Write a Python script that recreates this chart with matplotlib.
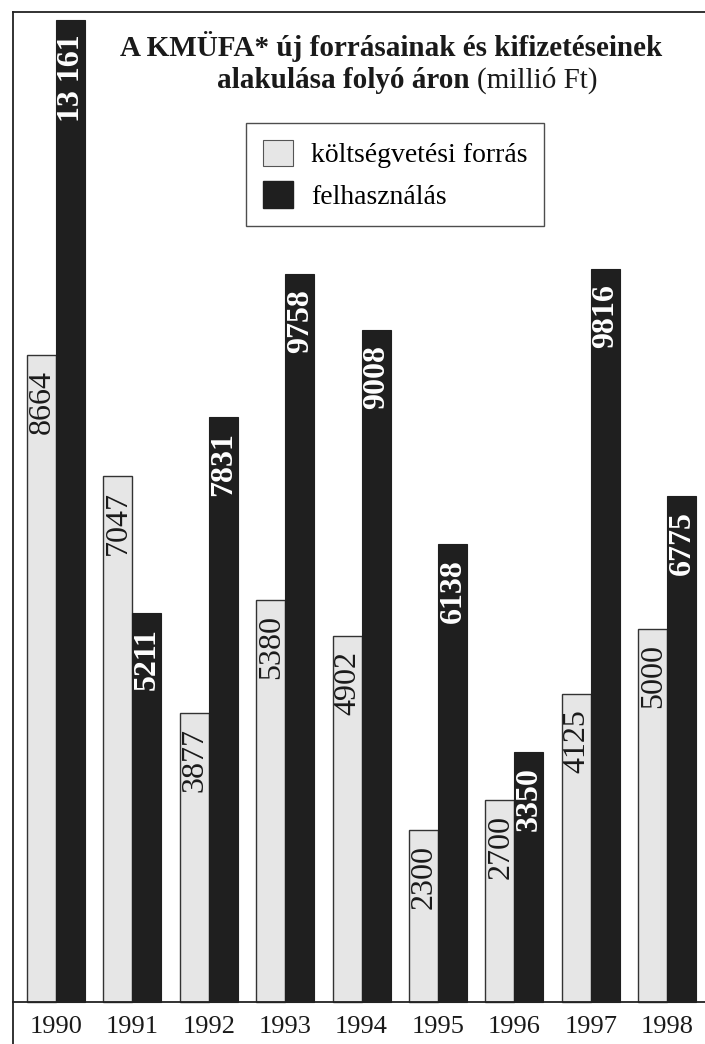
import numpy as np
import matplotlib.pyplot as plt
from matplotlib.lines import Line2D
from matplotlib.patches import Patch

plt.rcParams['font.family'] = ['Liberation Serif', 'DejaVu Serif']

years = ['1990', '1991', '1992', '1993', '1994', '1995', '1996', '1997', '1998']
koltsegvetesi = [8664, 7047, 3877, 5380, 4902, 2300, 2700, 4125, 5000]
felhasznalas = [13161, 5211, 7831, 9758, 9008, 6138, 3350, 9816, 6775]
series_names = ['költségvetési forrás', 'felhasználás']

W, H = 705, 1044
light = '#e6e6e6'
dark = '#1f1f1f'


def px(x, y):
    # pixel coords (from top-left) -> figure fraction
    return x / W, 1 - y / H


fig = plt.figure(figsize=(W / 100, H / 100), dpi=100)

base_y = 1002
scale = 0.07464  # px per unit
spacing = 76.4
x0 = 56
ax = fig.add_axes([13 / W, (H - base_y) / H, (W - 13) / W, base_y / H])
ax.set_xlim(-(x0 - 13) / spacing, (W - x0) / spacing)
ax.set_ylim(0, base_y / scale)

x = np.arange(len(years))
bw = 29 / spacing
ax.bar(x - bw / 2, koltsegvetesi, bw, color=light, edgecolor='#333333', linewidth=1.0, clip_on=False, zorder=3)
ax.bar(x + bw / 2, felhasznalas, bw, color=dark, edgecolor=dark, linewidth=0.8, clip_on=False, zorder=3)

off = 15 / scale
for i in range(len(years)):
    ax.text(x[i] - bw / 2 + 0.01, koltsegvetesi[i] - off, str(koltsegvetesi[i]), rotation=90,
            ha='center', va='top', fontsize=23, color='#1a1a1a', zorder=4)
    v = felhasznalas[i]
    lab = '13 161' if v >= 10000 else str(v)
    ax.text(x[i] + bw / 2 + 0.01, v - off, lab, rotation=90, ha='center', va='top',
            fontsize=23, fontweight='bold', color='white', zorder=4)

ax.set_xticks(x)
ax.set_xticklabels(years, fontsize=19, color='#1a1a1a')
ax.tick_params(axis='x', length=0, pad=10)
ax.set_yticks([])
for s in ax.spines.values():
    s.set_visible(False)

# frame lines
fig.add_artist(Line2D([13 / W, 1], [1 - 12 / H, 1 - 12 / H], color='#222222', lw=1.3, zorder=1))
fig.add_artist(Line2D([13 / W, 13 / W], [0, 1 - 12 / H], color='#222222', lw=1.3, zorder=1))
fig.add_artist(Line2D([13 / W, 1], [1 - base_y / H, 1 - base_y / H], color='#222222', lw=1.3, zorder=5))

# title
fig.text(*px(391, 47), 'A KMÜFA* új forrásainak és kifizetéseinek', ha='center', va='center',
         fontsize=21, fontweight='bold', color='#1a1a1a')
fig.text(*px(470, 80), 'alakulása folyó áron', ha='right', va='center',
         fontsize=21, fontweight='bold', color='#1a1a1a')
fig.text(*px(477, 80), '(millió Ft)', ha='left', va='center',
         fontsize=21, color='#1a1a1a')

handles = [Patch(facecolor=light, edgecolor='#555555', linewidth=0.8),
           Patch(facecolor=dark, edgecolor=dark)]
leg = fig.legend(handles, series_names, loc='upper left', bbox_to_anchor=px(246, 123),
                 fontsize=20, frameon=True, fancybox=False, edgecolor='#222222',
                 handlelength=1.1, handleheight=1.1, handletextpad=0.65,
                 labelspacing=0.45, borderpad=0.6, borderaxespad=0)
leg.get_frame().set_linewidth(1.0)

fig.savefig('out.png', dpi=100)
